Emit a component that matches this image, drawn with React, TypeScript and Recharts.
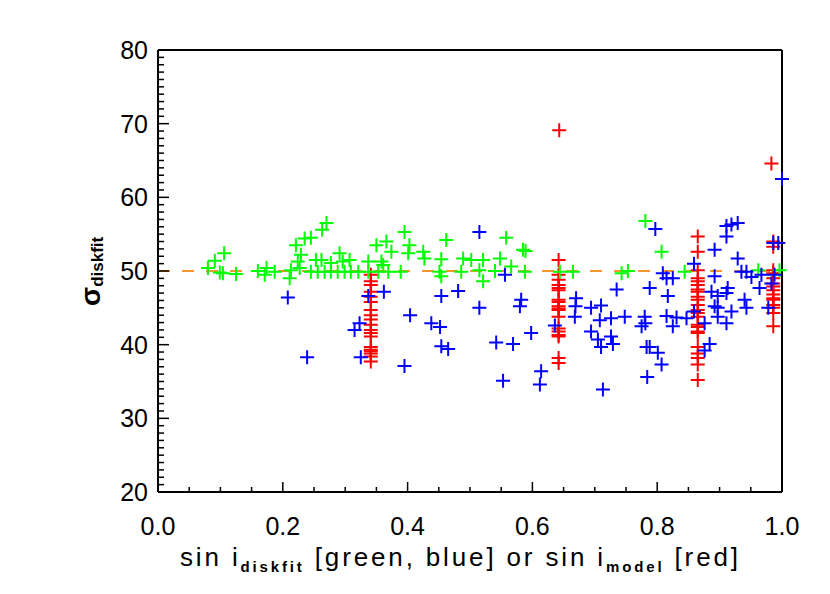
import { ReferenceLine, Scatter, ScatterChart, XAxis, YAxis } from 'recharts'

// sin i vs sigma, three groups
const greenPoints: [number, number][] = [
  [0.08, 50.4], [0.091, 51.4], [0.106, 52.4], [0.099, 49.8], [0.104, 49.7], [0.125, 49.6], [0.16, 50], [0.174, 50.4],
  [0.171, 49.5], [0.187, 49.9], [0.211, 49], [0.213, 50.1], [0.221, 53.5], [0.235, 54.4], [0.245, 54.5], [0.224, 51.3],
  [0.229, 52.2], [0.227, 50.4], [0.245, 49.9], [0.253, 51.5], [0.27, 56.5], [0.263, 55.6], [0.395, 55.3], [0.462, 54.2],
  [0.35, 53.5], [0.366, 54], [0.374, 52.6], [0.403, 53.5], [0.401, 52.4], [0.425, 52.6], [0.427, 51.7], [0.454, 51.6],
  [0.489, 51.7], [0.291, 52.4], [0.296, 51.3], [0.262, 51.5], [0.277, 51.1], [0.307, 51.5], [0.337, 51.3], [0.358, 51.3],
  [0.361, 50.8], [0.256, 49.9], [0.267, 49.9], [0.277, 49.9], [0.288, 49.9], [0.299, 49.9], [0.309, 49.9], [0.321, 49.9],
  [0.337, 49.9], [0.353, 49.9], [0.369, 49.9], [0.389, 49.9], [0.451, 49.9], [0.454, 49.3], [0.486, 49.9], [0.558, 54.5],
  [0.585, 52.9], [0.589, 52.7], [0.502, 51.5], [0.521, 51.5], [0.548, 51.7], [0.566, 50.6], [0.515, 50.1], [0.54, 50],
  [0.588, 49.9], [0.644, 49.9], [0.665, 49.9], [0.521, 48.6], [0.781, 56.8], [0.807, 52.6], [0.743, 49.7], [0.753, 50],
  [0.844, 49.9], [0.962, 50.1], [0.996, 50.1],
]

const bluePoints: [number, number][] = [
  [0.208, 46.4], [0.239, 38.3], [0.337, 46.6], [0.362, 47.2], [0.323, 42.9], [0.315, 42], [0.325, 38.3], [0.395, 37.1],
  [0.404, 44], [0.454, 46.6], [0.481, 47.3], [0.438, 42.9], [0.452, 42.4], [0.454, 39.8], [0.465, 39.4], [0.515, 55.3],
  [0.556, 49.5], [0.582, 46.1], [0.58, 45.2], [0.515, 45], [0.598, 41.6], [0.542, 40.3], [0.569, 40.1], [0.614, 36.4],
  [0.612, 34.6], [0.553, 35.1], [0.636, 42.6], [0.67, 46.3], [0.669, 45.2], [0.668, 43.8], [0.694, 45], [0.71, 45.3],
  [0.708, 43.3], [0.726, 43.6], [0.735, 47.5], [0.694, 41.8], [0.705, 40.7], [0.71, 39.7], [0.726, 41.1], [0.729, 40.1],
  [0.713, 33.9], [0.797, 55.7], [0.892, 52.9], [0.911, 56.1], [0.919, 56.3], [0.929, 56.5], [0.911, 54.7], [0.929, 51.7],
  [0.859, 51], [0.986, 53.8], [0.994, 53.8], [0.788, 47.7], [0.809, 49.7], [0.815, 49], [0.825, 49], [0.817, 46.6],
  [0.892, 49.3], [0.887, 47.2], [0.897, 46.6], [0.913, 47.7], [0.911, 47], [0.935, 49.9], [0.943, 49.9], [0.951, 49.2],
  [0.967, 49.5], [0.964, 47.7], [0.94, 46.1], [0.943, 45], [0.892, 45.2], [0.897, 45], [0.978, 45], [0.983, 48.3],
  [0.988, 49.5], [0.748, 43.8], [0.78, 43.8], [0.775, 42.5], [0.781, 42.9], [0.815, 43.9], [0.831, 43.7], [0.825, 42.5],
  [0.847, 43.6], [0.859, 44.5], [0.876, 42.9], [0.897, 43.8], [0.911, 42.9], [0.919, 44.5], [0.783, 39.7], [0.788, 39.7],
  [0.801, 38.9], [0.807, 37.3], [0.784, 35.6], [0.884, 40.1], [0.876, 39.2], [1.0, 62.5],
]

const redPoints: [number, number][] = [
  [0.341, 49.5], [0.341, 48.6], [0.341, 48.1], [0.341, 47.2], [0.341, 46.5], [0.341, 45.8], [0.341, 44.7], [0.341, 44],
  [0.341, 43.4], [0.341, 42.7], [0.341, 42], [0.341, 41.6], [0.341, 41.1], [0.341, 39.7], [0.341, 39.3], [0.341, 39.1],
  [0.341, 38.8], [0.341, 38.4], [0.341, 37.7],
  [0.643, 69.1], [0.642, 51.5], [0.642, 49.5], [0.642, 48.8], [0.642, 48.1], [0.642, 47.7], [0.642, 47.4], [0.642, 46.1],
  [0.642, 45.8], [0.642, 45.2], [0.642, 44.9], [0.642, 44.7], [0.642, 43.8], [0.642, 42.2], [0.642, 41.8], [0.642, 41.3],
  [0.642, 41.1], [0.642, 38.2], [0.642, 37.5],
  [0.865, 54.7], [0.865, 52.6], [0.865, 50.1], [0.865, 49], [0.865, 48.6], [0.865, 48.1], [0.865, 47.5], [0.865, 47.2],
  [0.865, 46.5], [0.865, 46.1], [0.865, 45.4], [0.865, 44.7], [0.865, 44.3], [0.865, 43.8], [0.865, 42.7], [0.865, 42.4],
  [0.865, 41.8], [0.865, 41.6], [0.865, 39.7], [0.865, 38.8], [0.865, 38.2], [0.865, 37.3], [0.865, 35.2],
  [0.983, 64.6], [0.986, 54], [0.986, 53.3], [0.986, 50.1], [0.986, 49.7], [0.986, 49], [0.986, 48.3], [0.986, 47.9],
  [0.986, 47.4], [0.986, 46.8], [0.986, 46.3], [0.986, 46.1], [0.986, 45.4], [0.986, 45], [0.986, 44.3], [0.986, 42.5],
]

const xMajor = [0, 0.2, 0.4, 0.6, 0.8, 1.0]
const xTicks = [0, 0.05, 0.1, 0.15, 0.2, 0.25, 0.3, 0.35, 0.4, 0.45, 0.5, 0.55, 0.6, 0.65, 0.7, 0.75, 0.8, 0.85, 0.9, 0.95, 1.0]
const yMajor = [20, 30, 40, 50, 60, 70, 80]
const yTicks = Array.from({ length: 61 }, (_, i) => 20 + i)

const toXY = (pts: [number, number][]) => pts.map(([x, y]) => ({ x, y }))

const FONT = '"Liberation Sans", Arial, sans-serif'

const plus = (color: string) => (props: any) => {
  const { cx, cy } = props
  return <path d={`M${cx - 7},${cy}H${cx + 7}M${cx},${cy - 7}V${cy + 7}`} stroke={color} strokeWidth={2} fill="none" />
}

const isXMajor = (v: number) => xMajor.some((m) => Math.abs(m - v) < 1e-6)

function BottomTick({ x, y, payload }: any) {
  const major = isXMajor(payload.value)
  return (
    <g>
      <line x1={x} y1={y} x2={x} y2={y - (major ? 10 : 5)} stroke="#000" strokeWidth={1.5} />
      {major && (
        <text x={x} y={y + 43} textAnchor="middle" fontSize={25} fontFamily={FONT} fill="#000">
          {payload.value.toFixed(1)}
        </text>
      )}
    </g>
  )
}

function TopTick({ x, y, payload }: any) {
  const major = isXMajor(payload.value)
  return <line x1={x} y1={y} x2={x} y2={y + (major ? 10 : 5)} stroke="#000" strokeWidth={1.5} />
}

function LeftTick({ x, y, payload }: any) {
  const major = yMajor.includes(payload.value)
  return (
    <g>
      <line x1={x} y1={y} x2={x + (major ? 11 : 6)} y2={y} stroke="#000" strokeWidth={1.5} />
      {major && (
        <text x={x - 10} y={y + 9} textAnchor="end" fontSize={25} fontFamily={FONT} fill="#000">
          {payload.value}
        </text>
      )}
    </g>
  )
}

function RightTick({ x, y, payload }: any) {
  const major = yMajor.includes(payload.value)
  return <line x1={x} y1={y} x2={x - (major ? 11 : 6)} y2={y} stroke="#000" strokeWidth={1.5} />
}

export default function App() {
  const axisLine = { stroke: '#000', strokeWidth: 2 }
  return (
    <div style={{ position: 'absolute', left: 0, top: 0, width: 830, height: 594, background: '#fff' }}>
      <ScatterChart width={830} height={594} margin={{ top: 49, right: 47, bottom: 101, left: 157 }}>
        <XAxis xAxisId="b" dataKey="x" type="number" domain={[0, 1]} ticks={xTicks} interval={0} height={1} tickSize={0} tickMargin={0} tickLine={false} axisLine={axisLine} tick={<BottomTick />} />
        <XAxis xAxisId="t" orientation="top" type="number" domain={[0, 1]} ticks={xTicks} interval={0} height={1} tickSize={0} tickMargin={0} tickLine={false} axisLine={axisLine} tick={<TopTick />} />
        <YAxis yAxisId="l" dataKey="y" type="number" domain={[20, 80]} ticks={yTicks} interval={0} width={1} tickSize={0} tickMargin={0} tickLine={false} axisLine={axisLine} tick={<LeftTick />} />
        <YAxis yAxisId="r" orientation="right" type="number" domain={[20, 80]} ticks={yTicks} interval={0} width={1} tickSize={0} tickMargin={0} tickLine={false} axisLine={axisLine} tick={<RightTick />} />
        <ReferenceLine xAxisId="b" yAxisId="l" y={50} stroke="#f5962f" strokeWidth={2} strokeDasharray="12 12" />
        <Scatter xAxisId="b" yAxisId="l" data={toXY(redPoints)} shape={plus('#ff0000')} isAnimationActive={false} />
        <Scatter xAxisId="b" yAxisId="l" data={toXY(greenPoints)} shape={plus('#00ff00')} isAnimationActive={false} />
        <Scatter xAxisId="b" yAxisId="l" data={toXY(bluePoints)} shape={plus('#0000ff')} isAnimationActive={false} />
      </ScatterChart>
      <svg width={830} height={594} style={{ position: 'absolute', left: 0, top: 0, pointerEvents: 'none' }}>
        <text x={459} y={566} textAnchor="middle" fontSize={26} fontFamily={FONT} fill="#000" textLength={558} lengthAdjust="spacing">
          sin i<tspan fontSize={15} fontWeight="bold" dy={6}>diskfit</tspan>
          <tspan dy={-6}> [green, blue] or sin i</tspan>
          <tspan fontSize={15} fontWeight="bold" dy={6}>model</tspan>
          <tspan dy={-6}> [red]</tspan>
        </text>
        <text transform="translate(100,306) rotate(-90)" textAnchor="start" fontSize={28} fontWeight="bold" fontFamily={FONT} fill="#000">
          σ<tspan fontSize={17} dy={3}>diskfit</tspan>
        </text>
      </svg>
    </div>
  )
}
